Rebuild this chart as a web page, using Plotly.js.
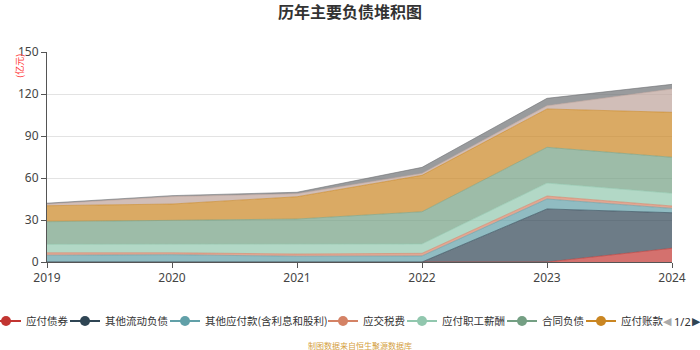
<!DOCTYPE html>
<html>
<head>
<meta charset="utf-8">
<script src="https://cdn.plot.ly/plotly-3.0.1.min.js"></script>
<style>html,body{margin:0;padding:0;background:#fff;}#chart{width:700px;height:350px;}</style>
</head>
<body>
<div id="chart"></div>
<script>
var years = [2019, 2020, 2021, 2022, 2023, 2024];
var seriesNames = ["应付债券", "其他流动负债", "其他应付款(含利息和股利)", "应交税费", "应付职工薪酬", "合同负债", "应付账款", "预收款项", "短期借款"];
var yingfuZhaiquan = [0, 0, 0, 0, 0, 9.8];
var qitaLiudongFuzhai = [0, 0, 0, 0, 37.9, 25.4];
var qitaYingfukuan = [4.8, 5.2, 4.1, 4.3, 7.1, 3.1];
var yingjiaoShuifei = [1.8, 1.4, 1.6, 1.9, 2.1, 1.7];
var yingfuZhigongXinchou = [6.0, 6.0, 7.2, 6.7, 9.3, 9.1];
var hetongFuzhai = [16.2, 17.4, 17.8, 23.0, 25.5, 25.7];
var yingfuZhangkuan = [11.4, 11.4, 15.9, 26.0, 27.4, 32.1];
var yushouKuanxiang = [1.2, 5.3, 2.2, 1.4, 2.3, 16.7];
var duanqiJiekuan = [0.6, 0.7, 1.0, 4.3, 5.3, 3.3];
var yTicks = [0, 30, 60, 90, 120, 150];

var values = [yingfuZhaiquan, qitaLiudongFuzhai, qitaYingfukuan, yingjiaoShuifei, yingfuZhigongXinchou, hetongFuzhai, yingfuZhangkuan, yushouKuanxiang, duanqiJiekuan];
var colors = ['#c23531', '#2f4554', '#61a0a8', '#d48265', '#91c7ae', '#749f83', '#ca8622', '#bda29a', '#6e7074'];
function rgba(hex, a) {
  var r = parseInt(hex.substr(1, 2), 16), g = parseInt(hex.substr(3, 2), 16), b = parseInt(hex.substr(5, 2), 16);
  return 'rgba(' + r + ',' + g + ',' + b + ',' + a + ')';
}
// text start x (px) for visible legend entries on page 1
var legendTextX = [26, 105, 205, 363, 442, 542, 621];

var traces = [];
var layoutLegends = {};
for (var i = 0; i < seriesNames.length; i++) {
  traces.push({
    x: years, y: values[i], name: seriesNames[i], type: 'scatter', mode: 'lines',
    stackgroup: 'one', fillcolor: rgba(colors[i], 0.7),
    line: {color: colors[i], width: 0.6, shape: 'linear'},
    showlegend: false, hoverinfo: 'skip'
  });
}
for (var j = 0; j < legendTextX.length; j++) {
  var key = j === 0 ? 'legend' : 'legend' + (j + 1);
  traces.push({
    x: [null], y: [null], name: seriesNames[j], type: 'scatter', mode: 'lines+markers',
    line: {color: colors[j], width: 2}, marker: {color: colors[j], size: 10},
    showlegend: true, legend: key, hoverinfo: 'skip'
  });
  var origin = legendTextX[j] - 40;
  var indent = origin < 0 ? Math.max(-15, origin) : 0;
  layoutLegends[key] = {
    xref: 'container', yref: 'container',
    x: Math.max(0, origin) / 700, xanchor: 'left',
    y: (350 - 321) / 350, yanchor: 'middle',
    indentation: indent,
    orientation: 'h', bgcolor: 'rgba(0,0,0,0)',
    font: {family: 'Noto Sans CJK SC, sans-serif', size: 10.5, color: '#333'}
  };
}

var layout = {
  width: 700, height: 350,
  margin: {l: 47, r: 28, t: 52, b: 88},
  paper_bgcolor: '#fff', plot_bgcolor: '#fff',
  title: {text: '<b>历年主要负债堆积图</b>', x: 0.5, xanchor: 'center', y: 0.965, yanchor: 'middle',
    font: {family: 'Noto Sans CJK SC, sans-serif', size: 16, color: '#333'}},
  xaxis: {
    range: [2019, 2024], tickvals: years, ticktext: years.map(String),
    showgrid: false, zeroline: false, showline: true, linecolor: '#555', linewidth: 1,
    ticks: 'outside', ticklen: 5, tickcolor: '#555',
    tickfont: {family: 'Noto Sans, sans-serif', size: 12, color: '#444'}
  },
  yaxis: {
    range: [0, 150], tickvals: yTicks, showgrid: true, gridcolor: '#e3e3e3', gridwidth: 1,
    zeroline: false, showline: true, linecolor: '#555', linewidth: 1,
    ticks: 'outside', ticklen: 5, tickcolor: '#555',
    tickfont: {family: 'Noto Sans, sans-serif', size: 12, color: '#444'}
  },
  showlegend: true,
  annotations: [
    {text: '(亿元)', xref: 'paper', yref: 'paper', x: -0.045, y: 1.0, xanchor: 'center', yanchor: 'top',
      textangle: -90, showarrow: false, font: {family: 'Noto Sans CJK SC, sans-serif', size: 9, color: '#ff3333'}},
    {text: '制图数据来自恒生聚源数据库', xref: 'paper', yref: 'paper', x: 0.5, y: 0, xanchor: 'center', yanchor: 'middle',
      showarrow: false, font: {family: 'Noto Sans CJK SC, sans-serif', size: 8, color: '#d4a040'}, yshift: -83},
    {text: '◀', xref: 'paper', yref: 'paper', x: 0, y: 0, xanchor: 'center', yanchor: 'middle', xshift: 667 - 47, yshift: -59,
      showarrow: false, font: {family: 'DejaVu Sans, sans-serif', size: 11, color: '#aaaaaa'}},
    {text: '1/2', xref: 'paper', yref: 'paper', x: 0, y: 0, xanchor: 'center', yanchor: 'middle', xshift: 682 - 47, yshift: -59,
      showarrow: false, font: {family: 'Noto Sans, sans-serif', size: 11, color: '#333'}},
    {text: '▶', xref: 'paper', yref: 'paper', x: 0, y: 0, xanchor: 'center', yanchor: 'middle', xshift: 696 - 47, yshift: -59,
      showarrow: false, font: {family: 'DejaVu Sans, sans-serif', size: 11, color: '#2f4554'}}
  ]
};
for (var k in layoutLegends) layout[k] = layoutLegends[k];

Plotly.newPlot('chart', traces, layout, {displayModeBar: false, staticPlot: true});
</script>
</body>
</html>
